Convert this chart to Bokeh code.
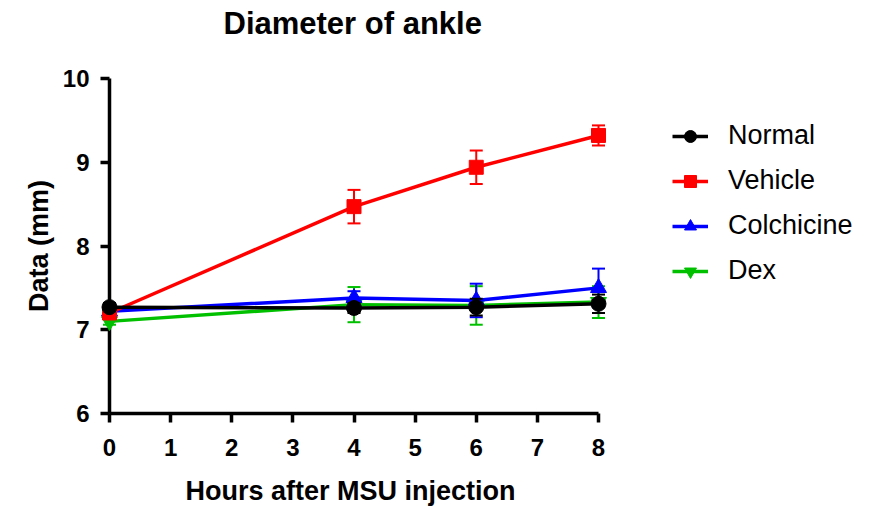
from bokeh.plotting import figure
from bokeh.models import ColumnDataSource, Legend, LegendItem, FixedTicker, Title
from bokeh.embed import file_html
from bokeh.resources import INLINE

hours = [0, 4, 6, 8]
normal = [7.27, 7.26, 7.27, 7.31]
normal_err = [0.05, 0.06, 0.10, 0.11]
vehicle = [7.20, 8.47, 8.94, 9.32]
vehicle_err = [0.05, 0.20, 0.20, 0.12]
colchicine = [7.22, 7.38, 7.35, 7.50]
colchicine_err = [0.04, 0.08, 0.20, 0.23]
dex = [7.10, 7.30, 7.29, 7.33]
dex_err = [0.04, 0.21, 0.23, 0.19]

FONT = "Liberation Sans"
W, H = 865, 506
LEFT, RIGHT_X8 = 109, 598
x_end = 8 * (W - LEFT) / (RIGHT_X8 - LEFT)

p = figure(width=W, height=H, output_backend="svg", toolbar_location=None,
           x_range=(0, x_end), y_range=(6, 10),
           min_border_left=LEFT, min_border_right=0, min_border_top=77, min_border_bottom=93,
           title="Diameter of ankle")
p.outline_line_color = None
p.xgrid.visible = False
p.ygrid.visible = False
p.background_fill_color = "white"

p.title.align = "left"
p.title.offset = 114
p.title.text_font = FONT
p.title.text_font_size = "31px"
p.title.text_font_style = "bold"
p.title.text_color = "black"
p.title.standoff = 6

# empty spacer between the frame and the title
p.add_layout(Title(text=" ", text_font_size="10px", standoff=22), "above")

for ax in (p.xaxis[0], p.yaxis[0]):
    ax.axis_line_width = 3.5
    ax.major_tick_line_width = 3.5
    ax.major_tick_out = 9
    ax.major_tick_in = 0
    ax.minor_tick_line_color = None
    ax.major_label_text_font = FONT
    ax.major_label_text_font_size = "24px"
    ax.major_label_text_font_style = "bold"
    ax.major_label_text_color = "black"
    ax.axis_label_text_font = FONT
    ax.axis_label_text_font_style = "bold"
    ax.axis_label_text_color = "black"

p.xaxis.bounds = (0, 8)
p.xaxis.ticker = FixedTicker(ticks=[0, 1, 2, 3, 4, 5, 6, 7, 8])
p.yaxis.ticker = FixedTicker(ticks=[6, 7, 8, 9, 10])
p.yaxis.axis_label = "Data (mm)"
p.yaxis.axis_label_text_font_size = "27px"
p.xaxis.major_label_standoff = 16
p.yaxis.major_label_standoff = 11
p.yaxis.axis_label_standoff = 6

# spacer below the tick labels, then the x-axis title under the 0-8 span
p.add_layout(Title(text=" ", text_font_size="10px", standoff=2), "below")
p.add_layout(Title(text="Hours after MSU injection", align="left", offset=76,
                   text_font=FONT, text_font_size="27px", text_font_style="bold",
                   text_color="black", standoff=0), "below")

series = [
    ("Dex", dex, dex_err, "#00C000", "inverted_triangle", 16),
    ("Colchicine", colchicine, colchicine_err, "#0000FF", "triangle", 16),
    ("Vehicle", vehicle, vehicle_err, "#FF0000", "square", 14),
    ("Normal", normal, normal_err, "#000000", "circle", 15),
]

items = {}
for name, vals, errs, color, marker, size in series:
    src = ColumnDataSource(dict(x=hours, y=vals,
                                upper=[v + e for v, e in zip(vals, errs)],
                                lower=[v - e for v, e in zip(vals, errs)]))
    p.segment(x0="x", y0="lower", x1="x", y1="upper", source=src,
              line_color=color, line_width=2, level="overlay")
    p.scatter("x", "upper", source=src, marker="dash", size=13,
              line_color=color, line_width=2, level="overlay")
    p.scatter("x", "lower", source=src, marker="dash", size=13,
              line_color=color, line_width=2, level="overlay")
    ln = p.line("x", "y", source=src, line_color=color, line_width=3.5, level="overlay")
    sc = p.scatter("x", "y", source=src, marker=marker, size=size,
                   fill_color=color, line_color=color, level="overlay")
    items[name] = LegendItem(label=name, renderers=[ln, sc])

legend = Legend(items=[items[n] for n in ["Normal", "Vehicle", "Colchicine", "Dex"]],
                location=(563, 127))
legend.label_text_font = FONT
legend.label_text_font_size = "27px"
legend.label_text_color = "black"
legend.glyph_width = 36
legend.glyph_height = 30
legend.label_standoff = 20
legend.spacing = 14
legend.padding = 0
legend.margin = 0
legend.border_line_color = None
legend.background_fill_alpha = 0
p.add_layout(legend, "center")

open("out.html", "w").write(file_html(p, INLINE))
